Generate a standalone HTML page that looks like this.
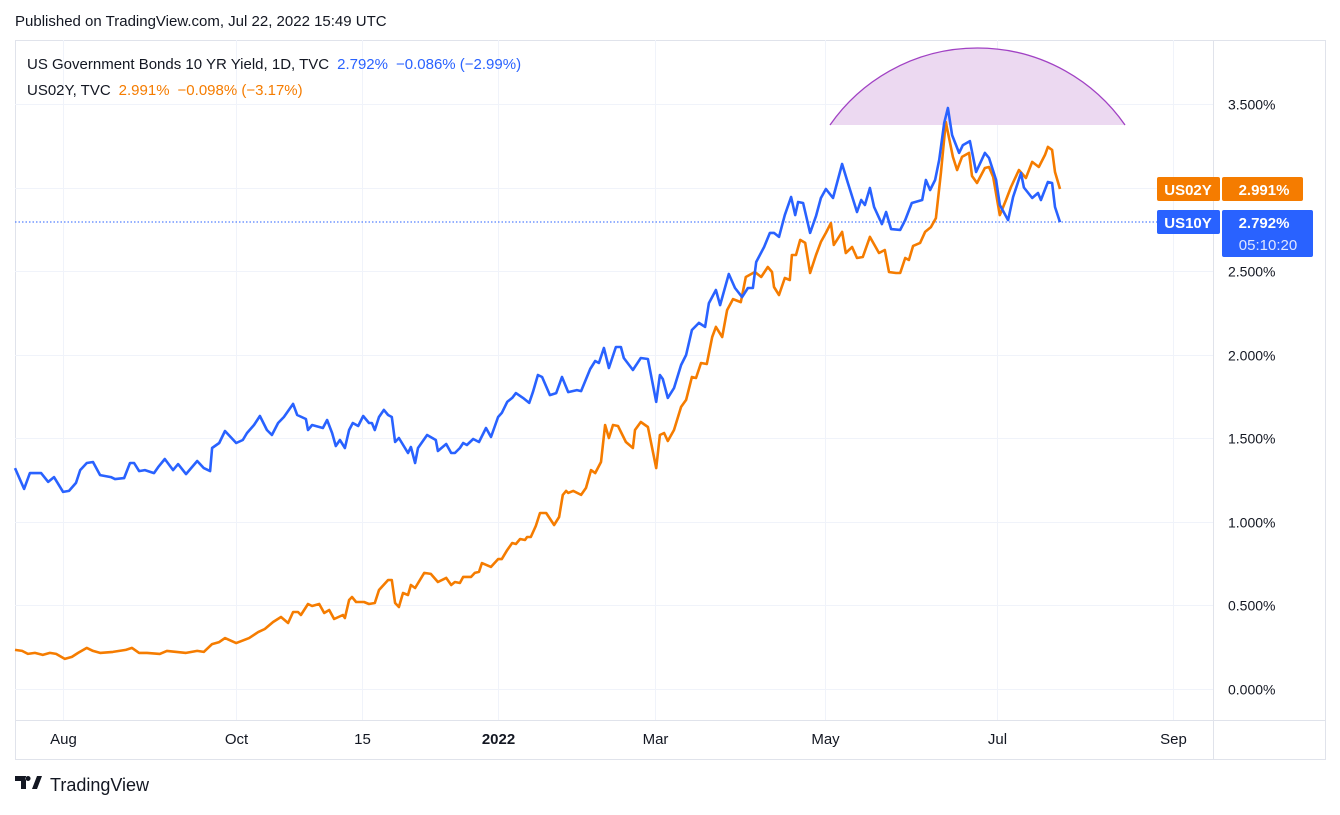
<!DOCTYPE html>
<html><head><meta charset="utf-8"><style>
body{margin:0;background:#fff;width:1340px;height:810px;overflow:hidden;font-family:"Liberation Sans",sans-serif;}
svg text{font-family:"Liberation Sans",sans-serif;}
</style></head><body>
<svg id="c" width="1340" height="810" xmlns="http://www.w3.org/2000/svg">
<text x="15" y="26" font-size="15" fill="#131722">Published on TradingView.com, Jul 22, 2022 15:49 UTC</text>
<rect x="15.5" y="40.5" width="1310" height="719" fill="none" stroke="#e0e3eb"/>
<g id="grid"></g>
<path d="M830 125 A179.8 179.8 0 0 1 1125 125 Z" fill="#ecd9f1" stroke="none"/>
<path d="M830 125 A179.8 179.8 0 0 1 1125 125" fill="none" stroke="#a142c4" stroke-width="1.3"/>
<line x1="15" y1="222" x2="1157" y2="222" stroke="#2962ff" stroke-dasharray="1.5 2"/>
<g id="series"></g>
<line x1="1213.5" y1="40" x2="1213.5" y2="760" stroke="#e0e3eb"/>
<line x1="15" y1="720.5" x2="1325" y2="720.5" stroke="#e0e3eb"/>
<g id="yaxis"></g>
<g id="xaxis"></g>
<text x="27" y="69" font-size="15"><tspan fill="#131722">US Government Bonds 10 YR Yield, 1D, TVC</tspan><tspan fill="#2962ff" dx="8">2.792%</tspan><tspan fill="#2962ff" dx="8">−0.086% (−2.99%)</tspan></text>
<text x="27" y="95" font-size="15"><tspan fill="#131722">US02Y, TVC</tspan><tspan fill="#f57c00" dx="8">2.991%</tspan><tspan fill="#f57c00" dx="8">−0.098% (−3.17%)</tspan></text>
<g>
<rect x="1157" y="177" width="63" height="24" rx="2" fill="#f57c00"/>
<rect x="1222" y="177" width="81" height="24" rx="2" fill="#f57c00"/>
<text x="1188" y="195" font-size="15" font-weight="bold" fill="#fff" text-anchor="middle">US02Y</text>
<text x="1264" y="195" font-size="15" font-weight="bold" fill="#fff" text-anchor="middle">2.991%</text>
</g>
<g>
<rect x="1157" y="210" width="63" height="24" rx="2" fill="#2962ff"/>
<rect x="1222" y="210" width="91" height="47" rx="2" fill="#2962ff"/>
<text x="1188" y="228" font-size="15" font-weight="bold" fill="#fff" text-anchor="middle">US10Y</text>
<text x="1264" y="228" font-size="15" font-weight="bold" fill="#fff" text-anchor="middle">2.792%</text>
<text x="1268" y="250" font-size="15" fill="#dfe6ff" text-anchor="middle">05:10:20</text>
</g>
<g>
<path d="M15 776h11v13h-5v-8h-6z M28 776 a2.5 2.5 0 1 0 0.1 0z M32 789l5-13h5l-5 13z" fill="#131722"/>
<text x="50" y="791" font-size="18" fill="#131722">TradingView</text>
</g>
</svg>
<script>
const yTicks=[0,0.5,1,1.5,2,2.5,3,3.5];
const yTickLabels=["0.000%","0.500%","1.000%","1.500%","2.000%","2.500%","","3.500%"];
const xTickBars=[11.6,53.3,83.7,116.4,154.2,195.2,236.7,279.1];
const xTickLabels=["Aug","Oct","15","2022","Mar","May","Jul","Sep"];
const us10yBars=[0,2.2,3.6,6.3,8.0,9.4,11.6,13.0,14.7,15.7,17.3,18.8,20.5,23.1,24.1,26.3,27.7,28.7,29.9,31.3,33.5,34.5,36.1,38.1,39.3,41.2,43.9,45.5,47.0,47.5,49.2,50.6,53.3,54.9,55.9,57.6,59.0,60.7,61.9,63.4,64.8,67.0,68.0,70.1,70.6,71.6,74.2,75.2,76.4,77.3,78.3,79.5,80.5,81.4,82.7,83.9,85.3,86.0,86.7,87.7,88.9,89.9,90.8,91.6,92.5,94.7,95.4,96.4,97.1,99.3,101.4,101.9,103.9,105.1,106.0,107.2,108.0,108.9,110.4,111.8,113.5,114.7,116.4,117.3,118.6,119.8,120.7,122.4,123.9,124.8,126.0,127.0,128.9,130.4,131.8,133.3,135.4,136.4,138.6,139.8,140.7,141.9,143.1,144.8,146.0,146.7,148.9,150.8,152.5,154.5,155.4,156.1,157.3,158.8,160.5,161.7,163.1,164.8,166.3,167.2,168.9,169.9,172.0,173.5,175.2,176.6,177.8,178.6,180.5,181.9,182.9,184.1,185.5,187.0,188.0,188.7,189.9,191.6,193.0,194.2,195.4,197.1,199.3,200.7,202.9,203.9,204.8,206.0,207.0,208.9,209.9,211.1,213.3,214.5,216.1,218.6,219.5,220.5,221.7,222.7,223.9,224.8,225.8,227.5,228.4,230.1,231.6,233.7,234.7,236.4,237.3,239.3,240.5,242.4,243.1,245.1,246.5,247.2,248.9,249.9,250.6,251.8];
const us10yValues=[1.320,1.195,1.290,1.290,1.237,1.266,1.177,1.183,1.231,1.308,1.350,1.356,1.278,1.266,1.254,1.260,1.350,1.350,1.302,1.308,1.290,1.326,1.374,1.308,1.344,1.284,1.362,1.320,1.302,1.440,1.470,1.542,1.470,1.488,1.530,1.578,1.632,1.548,1.518,1.590,1.626,1.704,1.638,1.614,1.548,1.578,1.560,1.608,1.530,1.452,1.488,1.440,1.548,1.590,1.572,1.632,1.590,1.590,1.548,1.626,1.668,1.638,1.626,1.476,1.500,1.410,1.446,1.350,1.440,1.518,1.488,1.422,1.464,1.410,1.410,1.440,1.470,1.458,1.494,1.476,1.560,1.506,1.626,1.650,1.716,1.740,1.769,1.740,1.710,1.775,1.877,1.865,1.757,1.769,1.865,1.775,1.787,1.781,1.913,1.961,1.949,2.039,1.919,2.045,2.045,1.979,1.907,1.979,1.973,1.716,1.877,1.853,1.740,1.799,1.937,1.997,2.147,2.189,2.165,2.308,2.386,2.296,2.482,2.398,2.344,2.398,2.398,2.554,2.644,2.728,2.728,2.704,2.835,2.943,2.835,2.913,2.907,2.728,2.829,2.937,2.991,2.937,3.141,3.027,2.853,2.925,2.895,2.997,2.883,2.781,2.853,2.751,2.746,2.805,2.907,2.925,3.045,2.985,3.045,3.165,3.386,3.476,3.314,3.207,3.254,3.278,3.093,3.207,3.177,3.045,2.895,2.805,2.943,3.087,3.000,2.937,2.967,2.925,3.033,3.027,2.883,2.792];
const us02yBars=[0,1.7,3.1,4.8,6.7,8.4,9.9,12.0,13.7,15.2,17.3,18.8,20.5,23.6,26.7,28.2,29.9,31.8,34.9,36.6,41.2,43.9,45.5,47.5,49.2,50.6,53.3,56.4,58.6,60.2,62.2,64.1,65.8,67.0,68.2,68.9,70.6,71.6,73.3,74.5,75.7,76.9,79.0,79.5,80.5,81.2,82.2,84.1,85.3,86.7,87.7,89.9,90.8,91.6,92.5,93.5,94.7,95.4,96.4,98.6,100.2,101.9,103.9,105.1,106.0,107.2,108.0,109.9,110.8,111.8,112.5,114.7,116.4,117.3,118.6,119.8,120.7,121.7,122.9,123.4,124.3,125.5,126.5,128.0,129.9,131.1,132.0,132.8,133.3,134.5,136.4,137.6,138.8,139.8,141.2,142.2,143.1,144.1,145.3,147.2,148.9,149.4,150.8,152.5,154.5,155.4,156.4,157.3,158.8,160.5,161.7,163.1,164.1,165.3,166.7,168.0,168.9,170.4,171.6,173.0,174.9,176.1,178.3,179.8,181.4,182.4,182.9,184.1,185.5,186.7,187.2,188.2,189.2,190.4,191.6,193.0,194.2,195.4,196.6,197.3,199.3,200.2,201.7,202.9,204.3,206.0,208.2,209.6,210.6,212.3,213.3,214.5,215.4,216.4,218.1,219.3,220.7,221.9,223.1,224.3,226.0,227.0,228.2,229.9,230.6,231.8,233.7,234.7,235.7,237.3,238.8,240.0,241.9,243.6,245.1,246.7,248.2,248.9,249.9,250.6,251.8];
const us02yValues=[0.231,0.225,0.207,0.213,0.201,0.213,0.207,0.177,0.189,0.213,0.243,0.225,0.213,0.219,0.231,0.243,0.213,0.213,0.207,0.225,0.213,0.225,0.219,0.266,0.278,0.302,0.272,0.302,0.338,0.356,0.398,0.428,0.392,0.458,0.458,0.440,0.506,0.494,0.506,0.452,0.470,0.416,0.440,0.422,0.530,0.548,0.518,0.518,0.506,0.512,0.590,0.650,0.650,0.512,0.488,0.572,0.560,0.620,0.602,0.692,0.686,0.638,0.662,0.620,0.638,0.632,0.668,0.668,0.692,0.698,0.751,0.728,0.775,0.775,0.829,0.871,0.865,0.895,0.889,0.907,0.907,0.973,1.051,1.051,0.979,1.027,1.159,1.183,1.171,1.183,1.159,1.201,1.308,1.290,1.356,1.578,1.500,1.578,1.572,1.476,1.440,1.548,1.596,1.566,1.320,1.518,1.530,1.482,1.548,1.686,1.728,1.865,1.859,1.949,1.943,2.105,2.165,2.105,2.266,2.332,2.314,2.464,2.494,2.464,2.524,2.494,2.404,2.356,2.458,2.446,2.596,2.596,2.686,2.668,2.488,2.596,2.674,2.728,2.787,2.656,2.734,2.608,2.644,2.578,2.584,2.704,2.608,2.626,2.494,2.488,2.488,2.578,2.566,2.650,2.668,2.734,2.763,2.817,3.087,3.392,3.183,3.105,3.183,3.207,3.069,3.027,3.117,3.123,3.063,2.835,2.925,3.003,3.105,3.057,3.153,3.123,3.195,3.243,3.225,3.093,2.991];

const NS="http://www.w3.org/2000/svg";
function xScale(b){return 15+b*4.15;}
function yScale(v){return 688.5-v*167;}
const grid=document.getElementById('grid'),yaxis=document.getElementById('yaxis'),xaxis=document.getElementById('xaxis'),series=document.getElementById('series');
yTicks.forEach((t,i)=>{
  const y=Math.round(yScale(t))+0.5;
  const l=document.createElementNS(NS,'line');
  l.setAttribute('x1',15);l.setAttribute('x2',1213);l.setAttribute('y1',y);l.setAttribute('y2',y);
  l.setAttribute('stroke','#f0f3fa');
  
  
  grid.appendChild(l);
  if(yTickLabels[i]){
    const tx=document.createElementNS(NS,'text');
    tx.setAttribute('x',1228);tx.setAttribute('y',y+5);tx.setAttribute('font-size','14');tx.setAttribute('fill','#131722');
    tx.textContent=yTickLabels[i];
    
    
    yaxis.appendChild(tx);
  }
});
xTickBars.forEach((b,i)=>{
  const x=Math.round(xScale(b))+0.5;
  const l=document.createElementNS(NS,'line');
  l.setAttribute('x1',x);l.setAttribute('x2',x);l.setAttribute('y1',40);l.setAttribute('y2',720);
  l.setAttribute('stroke','#f0f3fa');
  
  
  grid.appendChild(l);
  const tx=document.createElementNS(NS,'text');
  tx.setAttribute('x',x);tx.setAttribute('y',744);tx.setAttribute('font-size','15');tx.setAttribute('text-anchor','middle');
  tx.setAttribute('fill','#131722');
  if(xTickLabels[i]==="2022")tx.setAttribute('font-weight','bold');
  tx.textContent=xTickLabels[i];
  
  
  xaxis.appendChild(tx);
});
function drawLine(bars,vals,color,name){
  const p=document.createElementNS(NS,'path');
  p.setAttribute('d',bars.map((b,i)=>(i?'L':'M')+xScale(b).toFixed(1)+' '+yScale(vals[i]).toFixed(1)).join(' '));
  p.setAttribute('fill','none');p.setAttribute('stroke',color);p.setAttribute('stroke-width','2.6');p.setAttribute('stroke-linejoin','round');
  
  
  series.appendChild(p);
}
drawLine(us02yBars,us02yValues,'#f57c00','us02y-line');
drawLine(us10yBars,us10yValues,'#2962ff','us10y-line');
</script>
</body></html>
